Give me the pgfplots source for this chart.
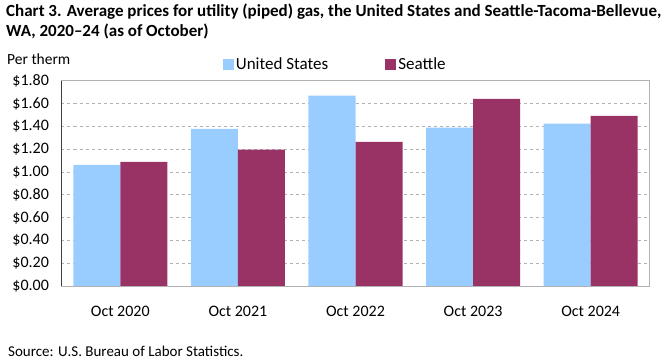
\documentclass[border=0pt]{standalone}
\usepackage{fontspec}
\setmainfont{Carlito}
\usepackage{pgfplots}
\pgfplotsset{compat=1.18}
\definecolor{usb}{HTML}{99CCFF}
\definecolor{sea}{HTML}{993366}
\begin{document}
\begin{tikzpicture}
\path[use as bounding box] (0pt,0pt) rectangle (661pt,361pt);
\node[anchor=north west, font=\bfseries\fontsize{17}{20}\selectfont, align=left, inner sep=0pt] at (6pt,357pt) {Chart 3. Average prices for utility (piped) gas, the United States and Seattle-Tacoma-Bellevue,\\WA, 2020--24 (as of October)};
\node[anchor=west, font=\fontsize{15.5}{16}\selectfont, inner sep=0pt] at (7pt,302pt) {Per therm};
\node[anchor=west, font=\fontsize{15}{15}\selectfont, inner sep=0pt] at (8pt,10pt) {Source: U.S. Bureau of Labor Statistics.};
\begin{axis}[at={(61.5pt,75pt)}, anchor=south west, scale only axis, width=588pt, height=205.3pt,
  xmin=-0.5, xmax=4.5, ymin=0, ymax=1.8,
  ybar=0pt, bar width=0.4,
  xtick={0,...,4}, xticklabels={Oct 2020,Oct 2021,Oct 2022,Oct 2023,Oct 2024},
  ytick={0,0.2,...,1.8},
  yticklabel={\$\pgfmathprintnumber[fixed,fixed zerofill,precision=2]{\tick}},
  /pgf/number format/assume math mode=true,
  major tick length=0pt,
  tick label style={font=\fontsize{16}{16}\selectfont},
  xticklabel style={yshift=-17pt},
  yticklabel style={xshift=-9pt},
  ymajorgrids, grid style={dashed, color=black!30, line width=0.6pt},
  axis line style={black!30, line width=0.8pt},
  legend columns=2,
  legend style={at={(0.269,1.081)}, anchor=west, draw=none, fill=none, font=\fontsize{17}{17}\selectfont, /tikz/every even column/.append style={column sep=55pt}},
  legend image code/.code={\fill[#1] (0pt,-5.5pt) rectangle (11pt,5.5pt);},
]
\addplot[fill=usb, draw=none] coordinates {(0,1.061) (1,1.377) (2,1.669) (3,1.389) (4,1.424)};
\addplot[fill=sea, draw=none] coordinates {(0,1.088) (1,1.196) (2,1.263) (3,1.640) (4,1.491)};
\legend{United States, Seattle}
\draw[black, line width=0.8pt] (rel axis cs:0,1) -- (rel axis cs:0,0) -- (rel axis cs:1,0);
\end{axis}
\end{tikzpicture}
\end{document}
